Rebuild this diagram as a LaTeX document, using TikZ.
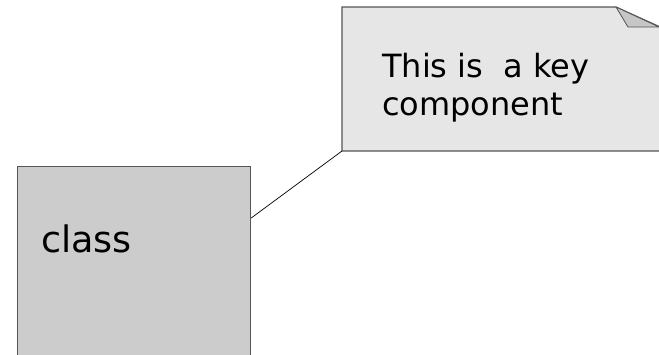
\documentclass[tikz,border=0pt]{standalone}
\usepackage{fontspec}
\setmainfont{DejaVu Sans}
\usepackage{tikz}
\usetikzlibrary{calc, positioning}

\definecolor{notefill}{HTML}{E6E6E6}
\definecolor{classfill}{HTML}{CCCCCC}
\definecolor{foldfill}{HTML}{C6C6C6}
\definecolor{edgegray}{HTML}{555555}

\begin{document}
\begin{tikzpicture}[x=1pt,y=-1pt,
  classbox/.style={draw=edgegray, fill=classfill, line width=1.2pt,
                   minimum width=233pt, minimum height=220pt,
                   anchor=north west, inner sep=0pt},
  notebody/.style={draw=edgegray, fill=notefill, line width=1.2pt},
  foldpart/.style={draw=edgegray, fill=foldfill, line width=0.8pt, line join=round},
  classtext/.style={font=\fontsize{36.5}{42}\selectfont, anchor=base west, inner sep=0pt},
  notetext/.style={font=\fontsize{32}{38}\selectfont, align=left, anchor=base west, inner sep=0pt},
  link/.style={draw=black, line width=0.7pt}]
\useasboundingbox (0,0) rectangle (659,354);

% class box
\node[classbox] (cls) at (17,166) {};
\node[classtext] (clslabel) at (41,252) {class};

% note with folded corner
\coordinate (notenw) at (342,7);
\coordinate (notesw) at (342,151);
\coordinate (foldtop) at (616,7);
\coordinate (foldtip) at (628,27);
\draw[notebody] (notesw) -- (notenw) -- (foldtop) -- (680,36) -- (680,151) -- cycle;
\draw[foldpart] (foldtop) -- (foldtip) -- (659,27) -- cycle;
\node[notetext] (notelabel) at (382,115) {This is~~a key\\component};

% connector
\draw[link] ([yshift=-52pt]cls.north east) -- (notesw);

\end{tikzpicture}
\end{document}
